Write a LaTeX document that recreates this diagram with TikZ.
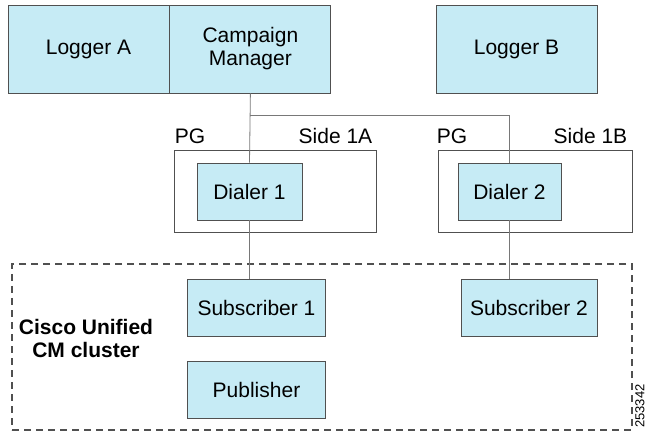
\documentclass[tikz,border=0pt]{standalone}
\usepackage{fontspec}
\setmainfont{Liberation Sans}
\usetikzlibrary{positioning,calc}

\definecolor{boxblue}{RGB}{198,235,245}
\definecolor{edge}{RGB}{80,80,80}
\definecolor{wirec}{RGB}{120,120,120}

\begin{document}
\begin{tikzpicture}[x=1pt, y=-1pt, font=\fontsize{21}{23}\selectfont,
  blk/.style={draw=edge, fill=boxblue, line width=0.9pt, minimum width=161pt,
    minimum height=88pt, inner sep=0pt, align=center},
  sub/.style={blk, minimum height=57pt},
  pg/.style={draw=edge, line width=0.9pt, minimum height=82pt, inner sep=0pt},
  lbl/.style={inner sep=0pt},
  wire/.style={draw=wirec, line width=0.8pt}]
  \useasboundingbox (0,0) rectangle (646,433);

  % loggere si campaign manager
  \node[blk] (logA) at (88.5,49) {Logger A};
  \node[blk, right=0pt of logA] (cm) {Campaign\\Manager};
  \node[blk] (logB) at (516.5,49) {Logger B};

  % cluster
  \node[draw=edge, dash pattern=on 7pt off 5pt, line width=1.1pt,
    minimum width=620pt, minimum height=166pt] (cucm) at (322,347) {};
  \node[font=\bfseries\fontsize{21}{23}\selectfont, align=center] (cucmlbl)
    at (86,338) {Cisco Unified\\CM cluster};

  % PG-uri cu dialere
  \node[pg, minimum width=202pt] (pg1) at (275,191) {};
  \node[pg, minimum width=194pt] (pg2) at (535,191) {};
  \node[sub, minimum width=105pt] (dial1) at (249.5,191.5) {Dialer 1};
  \node[sub, minimum width=103pt] (dial2) at (509.5,191.5) {Dialer 2};
  \node[lbl, above right=6pt and 1pt of pg1.north west] (pg1a) {PG};
  \node[lbl, above left=6pt and 4pt of pg1.north east] (pg1b) {Side 1A};
  \node[lbl, above right=6pt and -1pt of pg2.north west] (pg2a) {PG};
  \node[lbl, above left=6pt and 5pt of pg2.north east] (pg2b) {Side 1B};

  % subscriberi si publisher
  \node[sub, minimum width=138pt] (sub1) at (256.5,307.5) {Subscriber 1};
  \node[sub, minimum width=138pt, below=25pt of sub1] (pub) {Publisher};
  \node[sub, minimum width=136pt] (sub2) at (529,307.5) {Subscriber 2};

  \node[lbl, rotate=90, font=\fontsize{13}{13}\selectfont] (figid)
    at (640,406) {253342};

  % legaturi
  \coordinate (split) at ($(cm.south)+(0,22)$);
  \draw[wire] (cm.south) -- (dial1.north);
  \draw[wire] (split) -| (dial2.north);
  \draw[wire] (dial1.south) -- (dial1.south |- sub1.north);
  \draw[wire] (dial2.south) -- (dial2.south |- sub2.north);
\end{tikzpicture}
\end{document}
